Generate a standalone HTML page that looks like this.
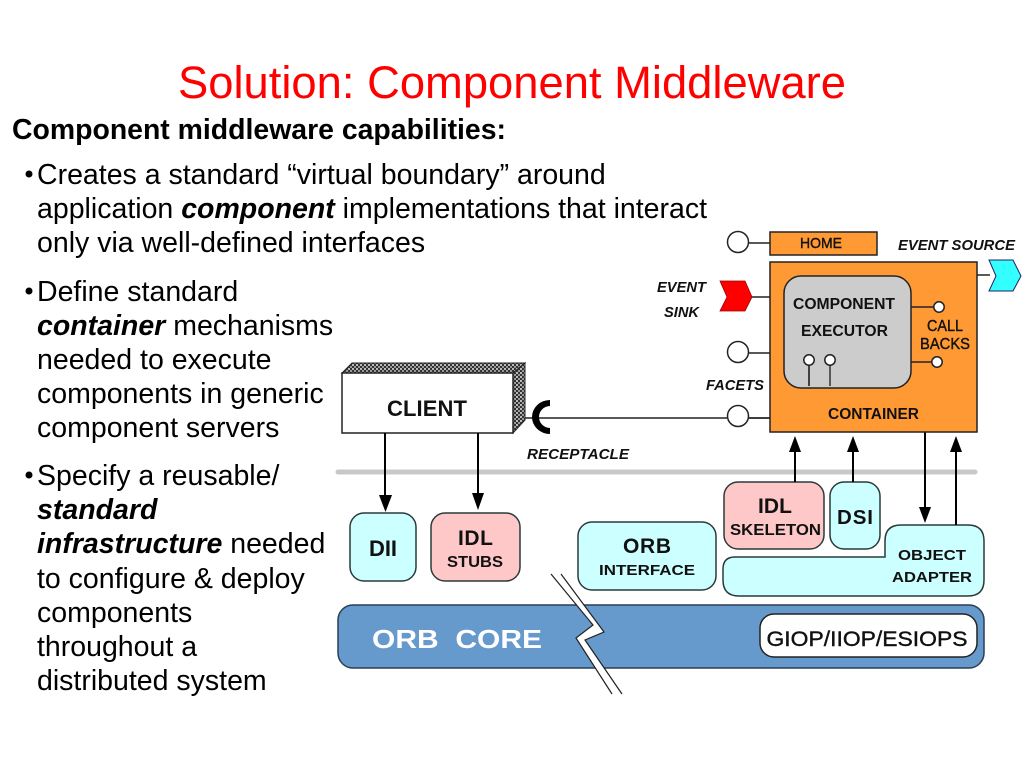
<!DOCTYPE html>
<html><head><meta charset="utf-8"><style>
html,body{margin:0;padding:0;background:#fff}
svg{display:block}
text{font-family:"Liberation Sans",Arial,sans-serif}
.b{font-size:28.5px;fill:#000}
.d{font-weight:bold;fill:#111;text-anchor:middle}
.i{font-weight:bold;font-style:italic;fill:#111;font-size:15px;text-anchor:middle}
.m{font-weight:normal;fill:#111;stroke:#111;stroke-width:.4;text-anchor:middle}
.c{fill:#fff;stroke:#222;stroke-width:1.5}
.box{stroke:#2a3a3a;stroke-width:1.5}
</style></head><body>
<svg width="1024" height="768" viewBox="0 0 1024 768" xmlns="http://www.w3.org/2000/svg">
<defs>
<pattern id="dith" width="4" height="4" patternUnits="userSpaceOnUse">
<rect width="4" height="4" fill="#333"/><rect x="0" y="0" width="2" height="2" fill="#bbb"/><rect x="2" y="2" width="2" height="2" fill="#999"/>
</pattern>
</defs>
<rect width="1024" height="768" fill="#fff"/>

<text x="178" y="98" font-size="45.6" fill="#f00" textLength="668" lengthAdjust="spacingAndGlyphs">Solution: Component Middleware</text>
<text x="12" y="139" class="b" font-weight="bold" textLength="494" lengthAdjust="spacingAndGlyphs">Component middleware capabilities:</text>

<circle cx="29" cy="174" r="3.5" fill="#000"/>
<text x="37" y="184" class="b">Creates a standard “virtual boundary” around</text>
<text x="37" y="218" class="b">application <tspan font-weight="bold" font-style="italic">component</tspan> implementations that interact</text>
<text x="37" y="252" class="b">only via well-defined interfaces</text>

<circle cx="29" cy="291" r="3.5" fill="#000"/>
<text x="37" y="301" class="b">Define standard</text>
<text x="37" y="335" class="b"><tspan font-weight="bold" font-style="italic">container</tspan> mechanisms</text>
<text x="37" y="369" class="b">needed to execute</text>
<text x="37" y="403" class="b">components in generic</text>
<text x="37" y="437" class="b">component servers</text>

<circle cx="29" cy="475" r="3.5" fill="#000"/>
<text x="37" y="485" class="b">Specify a reusable/</text>
<text x="37" y="519" class="b" font-weight="bold" font-style="italic">standard</text>
<text x="37" y="553" class="b"><tspan font-weight="bold" font-style="italic">infrastructure</tspan> needed</text>
<text x="37" y="588" class="b">to configure &amp; deploy</text>
<text x="37" y="622" class="b">components</text>
<text x="37" y="656" class="b">throughout a</text>
<text x="37" y="690" class="b">distributed system</text>

<!-- gray separator -->
<line x1="338" y1="472" x2="975" y2="472" stroke="#c8c8c8" stroke-width="5" stroke-linecap="round"/>

<!-- client -->
<polygon points="342,373 352,363 525,363 513,373" fill="url(#dith)" stroke="#222" stroke-width="1"/>
<polygon points="513,373 525,363 525,420 513,433" fill="url(#dith)" stroke="#222" stroke-width="1"/>
<rect x="342" y="373" width="171" height="60" fill="#fff" stroke="#222" stroke-width="1.5"/>
<text x="427" y="416" class="d" font-size="22" textLength="80" lengthAdjust="spacing">CLIENT</text>

<!-- receptacle -->
<line x1="525" y1="418" x2="727" y2="418" stroke="#222" stroke-width="1.5"/>
<path d="M550,400 A18,17 0 0 0 550,434 L550,428 A11,11 0 0 1 550,406 Z" fill="#000"/>
<text x="578" y="459" class="i" textLength="102" lengthAdjust="spacingAndGlyphs">RECEPTACLE</text>

<!-- client arrows -->
<line x1="385" y1="433" x2="385" y2="496" stroke="#000" stroke-width="2"/>
<polygon points="379,495 392,495 385.500,512" fill="#000"/>
<line x1="478" y1="433" x2="478" y2="496" stroke="#000" stroke-width="2"/>
<polygon points="472,493 484,493 478,510" fill="#000"/>

<!-- DII, stubs -->
<rect x="350" y="513" width="66" height="68" rx="14" fill="#ccffff" class="box"/>
<text x="383" y="556" class="d" font-size="22" textLength="28" lengthAdjust="spacing">DII</text>
<rect x="431" y="513" width="89" height="68" rx="14" fill="#ffc8c8" class="box"/>
<text x="475.500" y="545" class="d" font-size="21" textLength="35" lengthAdjust="spacing">IDL</text>
<text x="475" y="567" class="d" font-size="16" textLength="56" lengthAdjust="spacingAndGlyphs">STUBS</text>

<!-- ORB interface -->
<rect x="578" y="522" width="138" height="68" rx="14" fill="#ccffff" class="box"/>
<text x="647" y="553" class="d" font-size="21" textLength="48" lengthAdjust="spacing">ORB</text>
<text x="647" y="575" class="d" font-size="15" textLength="96" lengthAdjust="spacingAndGlyphs">INTERFACE</text>

<!-- ORB core -->
<rect x="338" y="605" width="646" height="63" rx="15" fill="#6699cc" stroke="#2a3f55" stroke-width="1.5"/>
<text x="372" y="648" font-size="26" font-weight="bold" fill="#fff" textLength="170" xml:space="preserve" lengthAdjust="spacingAndGlyphs">ORB  CORE</text>
<rect x="760" y="614" width="217" height="43" rx="14" fill="#fff" stroke="#222" stroke-width="1.5"/>
<text x="867" y="646" class="m" font-size="21" textLength="201" lengthAdjust="spacingAndGlyphs">GIOP/IIOP/ESIOPS</text>

<!-- break -->
<polygon points="551,574 561,574 604,632 585,640 622,694 612,694 576,638 593,625" fill="#fff"/>
<polyline points="551,574 593,625 576,638 612,694" fill="none" stroke="#222" stroke-width="1.2"/>
<polyline points="561,574 604,632 585,640 622,694" fill="none" stroke="#222" stroke-width="1.2"/>

<!-- IDL skeleton, DSI -->
<rect x="724" y="482" width="100" height="67" rx="14" fill="#ffc8c8" class="box"/>
<text x="775" y="513" class="d" font-size="21" textLength="34" lengthAdjust="spacing">IDL</text>
<text x="775.500" y="535" class="d" font-size="15.500" textLength="91" lengthAdjust="spacingAndGlyphs">SKELETON</text>
<rect x="830" y="482" width="50" height="67" rx="14" fill="#ccffff" class="box"/>
<text x="855" y="524" class="d" font-size="20.500" textLength="36" lengthAdjust="spacing">DSI</text>

<!-- object adapter -->
<path d="M735,557 H885 V541 Q885,525 901,525 H968 Q984,525 984,541 V580 Q984,596 968,596 H739 Q723,596 723,580 V569 Q723,557 735,557 Z" fill="#ccffff" class="box"/>
<text x="932" y="560" class="d" font-size="15" textLength="68" lengthAdjust="spacingAndGlyphs">OBJECT</text>
<text x="932" y="582" class="d" font-size="15" textLength="80" lengthAdjust="spacingAndGlyphs">ADAPTER</text>

<!-- arrows to container -->
<line x1="795" y1="450" x2="795" y2="482" stroke="#000" stroke-width="2"/>
<polygon points="789,452 801,452 795,436" fill="#000"/>
<line x1="853" y1="450" x2="853" y2="482" stroke="#000" stroke-width="2"/>
<polygon points="847,452 859,452 853,436" fill="#000"/>
<line x1="925" y1="432" x2="925" y2="510" stroke="#000" stroke-width="2"/>
<polygon points="919,507 931,507 925,523" fill="#000"/>
<line x1="956" y1="450" x2="956" y2="525" stroke="#000" stroke-width="2"/>
<polygon points="950,452 962,452 956,436" fill="#000"/>

<!-- home -->
<line x1="748" y1="243" x2="770" y2="243" stroke="#222" stroke-width="1.500"/>
<circle cx="738" cy="242" r="10.500" class="c"/>
<rect x="770" y="232" width="107" height="23" fill="#ff9933" stroke="#222" stroke-width="1.500"/>
<text x="821" y="248" class="m" font-size="15" textLength="42" lengthAdjust="spacingAndGlyphs">HOME</text>
<text x="956.500" y="250" class="i" textLength="117" lengthAdjust="spacingAndGlyphs">EVENT SOURCE</text>

<!-- event ports -->
<line x1="977" y1="275" x2="990" y2="275" stroke="#222" stroke-width="1.500"/>
<polygon points="989,260 1013,260 1021,276 1013,291 989,291 996,276" fill="#33ffff" stroke="#226" stroke-width="1"/>
<line x1="752" y1="297" x2="770" y2="297" stroke="#222" stroke-width="1.500"/>
<polygon points="720,281 745,281 752,297 745,311 720,311 727,297" fill="#f00" stroke="#900" stroke-width="0.800"/>
<text x="681.500" y="292" class="i" textLength="49" lengthAdjust="spacingAndGlyphs">EVENT</text>
<text x="681.500" y="317" class="i" textLength="35" lengthAdjust="spacingAndGlyphs">SINK</text>

<!-- container -->
<rect x="770" y="262" width="207" height="170" fill="#ff9933" stroke="#222" stroke-width="1.500"/>
<rect x="784" y="276" width="127" height="112" rx="17" fill="#cccccc" stroke="#222" stroke-width="1.500"/>
<text x="844" y="309" class="d" font-size="16" textLength="102" lengthAdjust="spacingAndGlyphs">COMPONENT</text>
<text x="844.500" y="336" class="d" font-size="16" textLength="87" lengthAdjust="spacingAndGlyphs">EXECUTOR</text>
<text x="945" y="331" class="m" font-size="15.500" textLength="36" lengthAdjust="spacingAndGlyphs">CALL</text>
<text x="945" y="349" class="m" font-size="15.500" textLength="50" lengthAdjust="spacingAndGlyphs">BACKS</text>
<text x="873.500" y="419" class="d" font-size="15.500" textLength="91" lengthAdjust="spacingAndGlyphs">CONTAINER</text>

<line x1="911" y1="307" x2="934" y2="307" stroke="#222" stroke-width="1.500"/>
<circle cx="939" cy="307" r="5.200" class="c"/>
<line x1="911" y1="362" x2="932" y2="362" stroke="#222" stroke-width="1.500"/>
<circle cx="937" cy="362" r="5.200" class="c"/>
<line x1="809" y1="365" x2="809" y2="386" stroke="#333" stroke-width="1.800"/>
<circle cx="809" cy="360" r="5.200" class="c"/>
<line x1="830" y1="365" x2="830" y2="386" stroke="#333" stroke-width="1.500"/>
<circle cx="830" cy="360" r="5.200" class="c"/>

<!-- facets -->
<line x1="748" y1="353" x2="770" y2="353" stroke="#222" stroke-width="1.500"/>
<circle cx="738" cy="352" r="10.500" class="c"/>
<text x="735" y="390" class="i" textLength="58" lengthAdjust="spacingAndGlyphs">FACETS</text>
<line x1="748" y1="418" x2="770" y2="418" stroke="#222" stroke-width="1.800"/>
<circle cx="738" cy="416" r="10.500" class="c"/>
</svg>
</body></html>
